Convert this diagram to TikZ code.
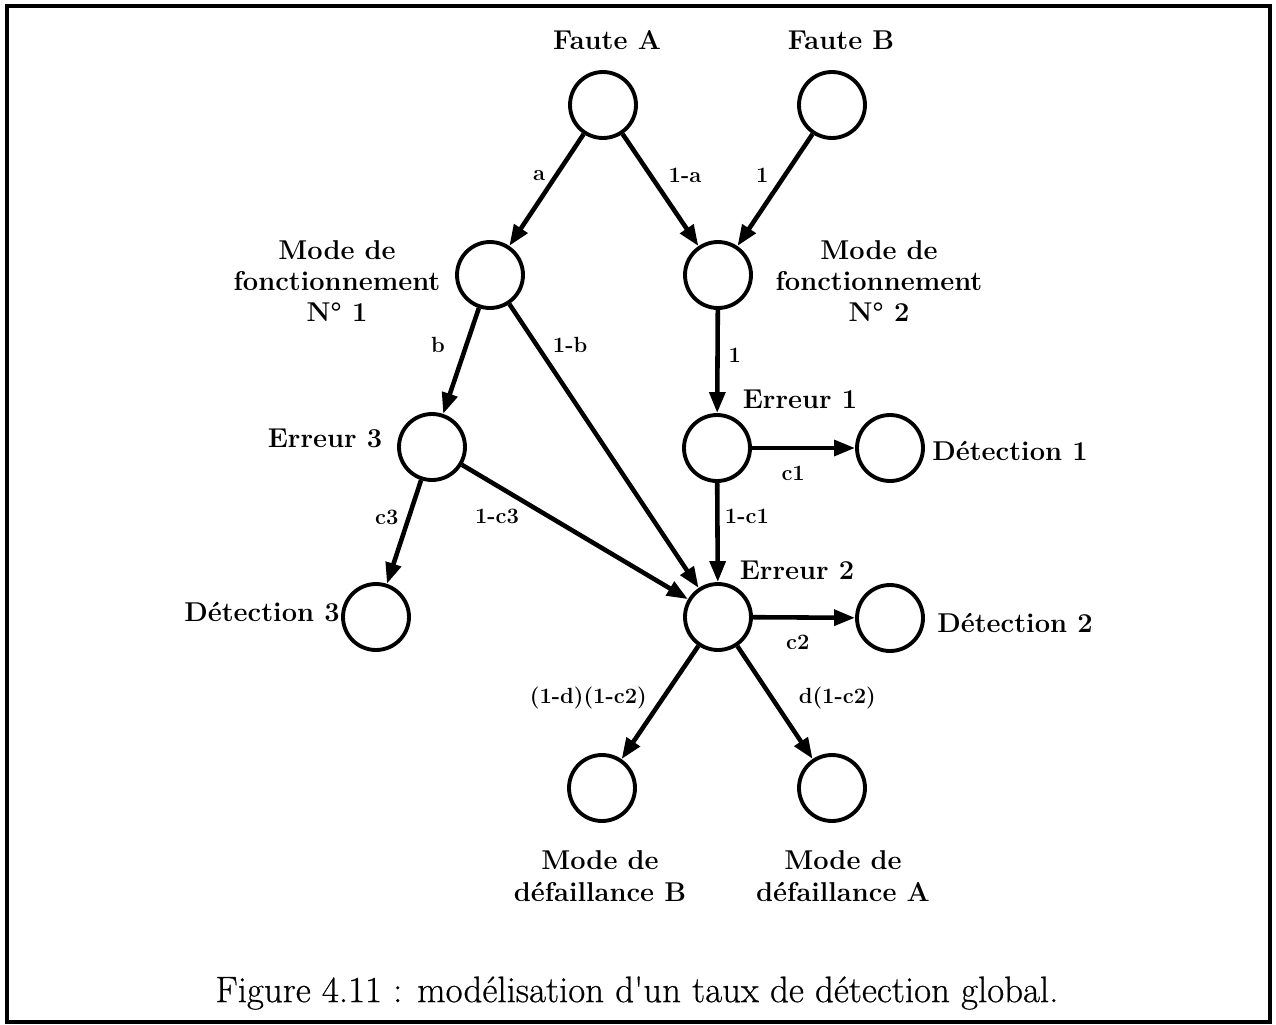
\documentclass[tikz,border=0pt]{standalone}
\usepackage{fontspec}
\usepackage{tikz}
\usetikzlibrary{arrows.meta}
\newfontfamily\legendefont{lmroman17-regular.otf}[FakeBold=0.6]

\begin{document}
\begin{tikzpicture}[x=0.02cm,y=-0.02cm,
    etat/.style={circle,draw,line width=2.2pt,minimum size=1.32cm,inner sep=0pt},
    titre/.style={font=\fontsize{15.5}{17.8}\selectfont\bfseries,align=center},
    proba/.style={font=\fontsize{12.5}{14}\selectfont\bfseries,inner sep=2pt},
    fleche/.style={-{Triangle[length=0.42cm,width=0.31cm]},line width=2.6pt}]
  \useasboundingbox (0,0) rectangle (1276,1025);
  \draw[line width=0.09cm] (7,6) rectangle (1270,1022);
  % etats
  \node[etat] (fa) at (603,105) {};
  \node[etat] (fb) at (832,105) {};
  \node[etat] (mf1) at (490,275) {};
  \node[etat] (mf2) at (718,275) {};
  \node[etat] (e3) at (432,447) {};
  \node[etat] (e1) at (717,448) {};
  \node[etat] (d1) at (890,448) {};
  \node[etat] (d3) at (376,617) {};
  \node[etat] (e2) at (718,617) {};
  \node[etat] (d2) at (890,618) {};
  \node[etat] (mdb) at (602,788) {};
  \node[etat] (mda) at (832,788) {};
  % textes
  \node[titre] (tfa) at (607,40) {Faute A};
  \node[titre] (tfb) at (841,40) {Faute B};
  \node[titre] (tmf1) at (337,281) {Mode de\\fonctionnement\\N° 1};
  \node[titre] (tmf2) at (879,281) {Mode de\\fonctionnement\\N° 2};
  \node[titre] (te3) at (325,438) {Erreur 3};
  \node[titre] (te1) at (800,399) {Erreur 1};
  \node[titre] (td1) at (1010,451) {Détection 1};
  \node[titre] (td3) at (262,612) {Détection 3};
  \node[titre] (te2) at (797,570) {Erreur 2};
  \node[titre] (td2) at (1015,623) {Détection 2};
  \node[titre] (tmdb) at (600,876) {Mode de\\défaillance B};
  \node[titre] (tmda) at (843,876) {Mode de\\défaillance A};
  % transitions
  \draw[fleche] (fa) -- node[proba,pos=0.37,left=3pt] (pa) {a} (mf1);
  \draw[fleche] (fa) -- node[proba,pos=0.37,right=7pt] (pna) {1-a} (mf2);
  \draw[fleche] (fb) -- node[proba,pos=0.37,left=6pt] (pfb) {1} (mf2);
  \draw[fleche] (mf1) -- node[proba,pos=0.35,left=9pt] (pb) {b} (e3);
  \draw[fleche] (mf1) -- node[proba,pos=0.144,right=6pt] (pnb) {1-b} (e2);
  \draw[fleche] (mf2) -- node[proba,pos=0.44,right=3pt] (pmf) {1} (e1);
  \draw[fleche] (e1) -- node[proba,pos=0.4,below=7pt] (pc1) {c1} (d1);
  \draw[fleche] (e1) -- node[proba,pos=0.34,right=1pt] (pnc1) {1-c1} (e2);
  \draw[fleche] (e3) -- node[proba,pos=0.36,left=2.5pt] (pc3) {c3} (d3);
  \draw[fleche] (e3) -- node[proba,pos=0.155,below=10pt] (pnc3) {1-c3} (e2);
  \draw[fleche] (e2) -- node[proba,pos=0.44,below=6.5pt] (pc2) {c2} (d2);
  \draw[fleche] (e2) -- node[proba,pos=0.46,left=6pt] (pdb) {(1-d)(1-c2)} (mdb);
  \draw[fleche] (e2) -- node[proba,pos=0.46,right=12pt] (pda) {d(1-c2)} (mda);
  % legende
  \node[font=\legendefont\fontsize{21}{24}\selectfont] (legende) at (637,993)
    {Figure 4.11 : modélisation d'un taux de détection global.};
\end{tikzpicture}
\end{document}
